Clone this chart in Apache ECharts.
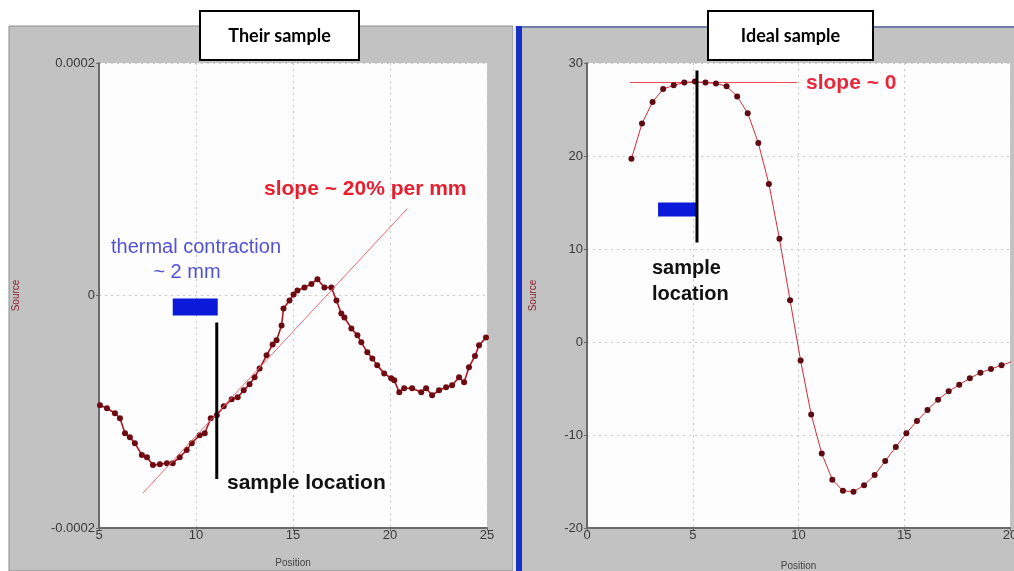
<!DOCTYPE html>
<html>
<head>
<meta charset="utf-8">
<script src="https://cdn.jsdelivr.net/npm/echarts@6.0.0/dist/echarts.min.js"></script>
<style>
  body { margin: 0; background: #fff; }
  #chart { width: 1014px; height: 571px; }
</style>
</head>
<body>
<div id="chart"></div>
<script>
// left panel: "Their sample"
const leftPosition = [5.05, 5.41, 5.82, 6.08, 6.34, 6.59, 6.85, 7.21, 7.47, 7.78, 8.14, 8.50, 8.80, 9.16, 9.52, 9.78,
  10.19, 10.45, 10.76, 11.07, 11.43, 11.84, 12.15, 12.46, 12.76, 13.02, 13.28, 13.64, 13.95, 14.15, 14.41, 14.51,
  14.82, 15.03, 15.23, 15.59, 15.95, 16.26, 16.62, 16.98, 17.24, 17.49, 17.65, 18.01, 18.32, 18.52, 18.83, 19.09,
  19.34, 19.70, 20.06, 20.22, 20.48, 20.73, 21.14, 21.61, 21.86, 22.17, 22.53, 22.89, 23.20, 23.56, 23.82, 24.07,
  24.38, 24.59, 24.95];
const leftSource = [-0.944e-4, -0.970e-4, -1.013e-4, -1.056e-4, -1.185e-4, -1.219e-4, -1.270e-4, -1.373e-4,
  -1.391e-4, -1.459e-4, -1.451e-4, -1.442e-4, -1.442e-4, -1.391e-4, -1.330e-4, -1.270e-4, -1.202e-4, -1.185e-4,
  -1.056e-4, -1.030e-4, -0.953e-4, -0.893e-4, -0.876e-4, -0.815e-4, -0.764e-4, -0.704e-4, -0.627e-4, -0.515e-4,
  -0.421e-4, -0.386e-4, -0.258e-4, -0.112e-4, -0.043e-4, 0.009e-4, 0.043e-4, 0.069e-4, 0.100e-4, 0.140e-4,
  0.069e-4, 0.069e-4, -0.043e-4, -0.155e-4, -0.189e-4, -0.283e-4, -0.343e-4, -0.403e-4, -0.489e-4, -0.541e-4,
  -0.601e-4, -0.670e-4, -0.712e-4, -0.730e-4, -0.833e-4, -0.798e-4, -0.798e-4, -0.833e-4, -0.798e-4, -0.858e-4,
  -0.815e-4, -0.790e-4, -0.773e-4, -0.704e-4, -0.747e-4, -0.618e-4, -0.520e-4, -0.429e-4, -0.361e-4];
const leftYTicks = ['-0.0002', '0', '0.0002'];
const leftSlopeLine = [[7.26, -1.70e-4], [20.89, 0.747e-4]];
const leftSampleLine = [[11.07, -0.232e-4], [11.07, -1.579e-4]];
const leftContractionBar = [[8.80, -0.026e-4], [11.12, -0.172e-4]];

// right panel: "Ideal sample"
const rightPosition = [2.1, 2.6, 3.1, 3.6, 4.1, 4.6, 5.1, 5.6, 6.1, 6.6, 7.1, 7.6, 8.1, 8.6, 9.1, 9.6, 10.1, 10.6,
  11.1, 11.6, 12.1, 12.6, 13.1, 13.6, 14.1, 14.6, 15.1, 15.6, 16.1, 16.6, 17.1, 17.6, 18.1, 18.6, 19.1, 19.6, 20.1];
const rightSource = [19.7, 23.5, 25.8, 27.2, 27.6, 27.9, 28.0, 27.9, 27.8, 27.5, 26.4, 24.6, 21.4, 17.0, 11.1, 4.5,
  -2.0, -7.8, -12.0, -14.8, -16.0, -16.1, -15.4, -14.3, -12.8, -11.3, -9.8, -8.5, -7.3, -6.2, -5.3, -4.6, -3.9,
  -3.3, -2.9, -2.5, -2.1];
const rightSlopeLine = [[2.03, 27.9], [9.93, 27.9]];
const rightSampleLine = [[5.2, 29.2], [5.2, 10.7]];
const rightContractionBar = [[3.36, 15.0], [5.2, 13.5]];

const chart = echarts.init(document.getElementById('chart'));

const tickFont = { color: '#3a3a3a', fontSize: 13, fontFamily: 'Liberation Sans' };
const dotted = { show: true, lineStyle: { color: '#c8c8c8', type: [2, 4], width: 1 } };
const axisLine = { show: true, onZero: false, lineStyle: { color: '#6a6a6a', width: 2 } };
const tick = { show: true, length: 3, lineStyle: { color: '#6a6a6a' } };

const pairs = (xs, ys) => xs.map((x, i) => [x, ys[i]]);

const bigText = (x, y, text, fill, size, weight, align) => ({
  type: 'text', x: x, y: y, z: 50,
  style: { text: text, fill: fill, font: weight + ' ' + size + 'px "Liberation Sans"', textAlign: align || 'left', textVerticalAlign: 'middle' }
});
const titleBox = (x, w, text) => ({
  type: 'group', x: x, y: 11, z: 100,
  children: [
    { type: 'rect', shape: { x: 0, y: 0, width: w, height: 49 }, style: { fill: '#fff', stroke: '#000', lineWidth: 2 }, z: 100 },
    { type: 'text', x: w / 2, y: 25, z: 101, style: { text: text, fill: '#000', font: 'bold 18px Lato', textAlign: 'center', textVerticalAlign: 'middle' } }
  ]
});

chart.setOption({
  animation: false,
  graphic: [
    { type: 'rect', z: -10, shape: { x: 9, y: 26, width: 504, height: 545 }, style: { fill: '#c2c2c2', stroke: '#8c8c8c', lineWidth: 1 } },
    { type: 'rect', z: -10, shape: { x: 513, y: 26, width: 3, height: 545 }, style: { fill: '#dfe6f4' } },
    { type: 'rect', z: -10, shape: { x: 516, y: 26, width: 6, height: 545 }, style: { fill: '#1a2fc8' } },
    { type: 'rect', z: -10, shape: { x: 522, y: 26, width: 492, height: 545 }, style: { fill: '#c2c2c2' } },
    { type: 'rect', z: -10, shape: { x: 522, y: 26, width: 492, height: 2 }, style: { fill: '#6f7fa8' } },
    titleBox(200, 159, 'Their sample'),
    titleBox(708, 165, 'Ideal sample'),
    bigText(264, 189, 'slope ~ 20% per mm', '#e81e2e', 21, 'bold'),
    bigText(196, 247, 'thermal contraction', '#5252d8', 20, 'normal', 'center'),
    bigText(187, 272, '~ 2 mm', '#5252d8', 20, 'normal', 'center'),
    bigText(227, 483, 'sample location', '#111', 21, 'bold'),
    bigText(806, 83, 'slope ~ 0', '#e8283a', 21, 'bold'),
    bigText(652, 268, 'sample', '#111', 20, 'bold'),
    bigText(652, 294, 'location', '#111', 20, 'bold')
  ],
  grid: [
    { left: 99, right: 527, top: 63, bottom: 43, show: true, backgroundColor: '#fdfdfd', borderWidth: 0, outerBoundsMode: 'none' },
    { left: 587, right: 4, top: 63, bottom: 43, show: true, backgroundColor: '#fdfdfd', borderWidth: 0, outerBoundsMode: 'none' }
  ],
  xAxis: [
    {
      type: 'value', gridIndex: 0, min: 5, max: 25, interval: 5,
      name: 'Position', nameLocation: 'middle', nameGap: 30,
      nameTextStyle: { color: '#444', fontSize: 10, fontFamily: 'Liberation Sans' },
      axisLine: axisLine, axisTick: tick, splitLine: dotted,
      axisLabel: Object.assign({ margin: 1 }, tickFont)
    },
    {
      type: 'value', gridIndex: 1, min: 0, max: 20, interval: 5,
      name: 'Position', nameLocation: 'middle', nameGap: 33,
      nameTextStyle: { color: '#444', fontSize: 10, fontFamily: 'Liberation Sans' },
      axisLine: axisLine, axisTick: tick, splitLine: dotted,
      axisLabel: Object.assign({ margin: 1 }, tickFont)
    }
  ],
  yAxis: [
    {
      type: 'value', gridIndex: 0, min: -0.0002, max: 0.0002, interval: 0.0002,
      name: 'Source', nameLocation: 'middle', nameGap: 78,
      nameTextStyle: { color: '#8b2030', fontSize: 10, fontFamily: 'Liberation Sans' },
      axisLine: axisLine, axisTick: tick, splitLine: dotted,
      axisLabel: Object.assign({ margin: 4, formatter: (v) => leftYTicks[Math.round(v / 0.0002) + 1] }, tickFont)
    },
    {
      type: 'value', gridIndex: 1, min: -20, max: 30, interval: 10,
      name: 'Source', nameLocation: 'middle', nameGap: 49,
      nameTextStyle: { color: '#8b2030', fontSize: 10, fontFamily: 'Liberation Sans' },
      axisLine: axisLine, axisTick: tick, splitLine: dotted,
      axisLabel: Object.assign({ margin: 4 }, tickFont)
    }
  ],
  series: [
    {
      type: 'line', xAxisIndex: 0, yAxisIndex: 0, z: 3,
      data: pairs(leftPosition, leftSource),
      symbol: 'circle', symbolSize: 6,
      lineStyle: { color: '#b0141f', width: 1.6 },
      itemStyle: { color: '#6e0a12' },
      markArea: {
        silent: true,
        itemStyle: { color: '#0a1ad8', opacity: 1 },
        data: [[{ coord: leftContractionBar[0] }, { coord: leftContractionBar[1] }]]
      }
    },
    {
      type: 'line', xAxisIndex: 0, yAxisIndex: 0, z: 4, symbol: 'none', silent: true,
      data: leftSlopeLine, lineStyle: { color: '#ee6a74', width: 1 }
    },
    {
      type: 'line', xAxisIndex: 0, yAxisIndex: 0, z: 5, symbol: 'none', silent: true,
      data: leftSampleLine, lineStyle: { color: '#000', width: 3 }
    },
    {
      type: 'line', xAxisIndex: 1, yAxisIndex: 1, z: 3,
      data: pairs(rightPosition, rightSource),
      symbol: 'circle', symbolSize: 6,
      lineStyle: { color: '#d42a38', width: 1 },
      itemStyle: { color: '#5e0a12' },
      markArea: {
        silent: true,
        itemStyle: { color: '#0a1ad8', opacity: 1 },
        data: [[{ coord: rightContractionBar[0] }, { coord: rightContractionBar[1] }]]
      }
    },
    {
      type: 'line', xAxisIndex: 1, yAxisIndex: 1, z: 2, symbol: 'none', silent: true,
      data: rightSlopeLine, lineStyle: { color: '#ee4a58', width: 1 }
    },
    {
      type: 'line', xAxisIndex: 1, yAxisIndex: 1, z: 5, symbol: 'none', silent: true,
      data: rightSampleLine, lineStyle: { color: '#000', width: 3 }
    }
  ]
});
</script>
</body>
</html>
